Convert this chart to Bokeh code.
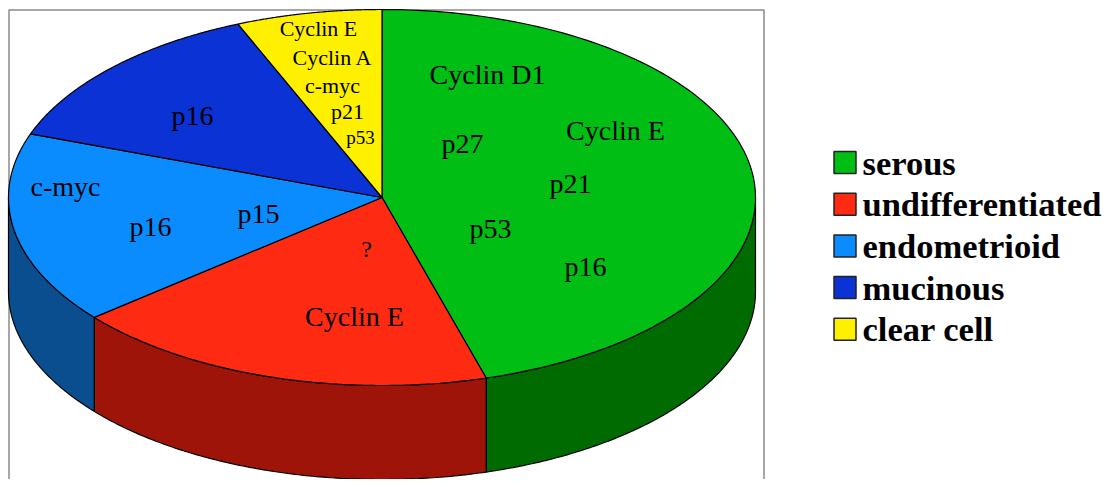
import numpy as np
from bokeh.plotting import figure
from bokeh.models import Range1d
from bokeh.core.properties import value
from bokeh.embed import file_html
from bokeh.resources import INLINE

# ---- data -------------------------------------------------------------
categories = ["serous", "undifferentiated", "endometrioid", "mucinous", "clear cell"]
shares = [45.5, 18.5, 16.5, 13.2, 6.3]
top_colors = ["#00BE14", "#FF2A12", "#0A8CFF", "#0A32D4", "#FFF000"]
side_colors = ["#006B00", "#9E1408", "#0A4E8F", "#06208A", "#A09600"]

# marker texts written on the slices (text, x, y, font size px)
slice_texts = [
    ("Cyclin D1", 487, 74, 28), ("Cyclin E", 615, 130, 28), ("p27", 462, 143, 28),
    ("p21", 570, 183, 28), ("p53", 490, 228, 28), ("p16", 585, 266, 28),
    ("?", 366, 248, 24), ("Cyclin E", 354, 316, 28),
    ("c-myc", 65, 186, 28), ("p16", 150, 226, 28), ("p15", 258, 213, 28),
    ("p16", 192, 115, 28),
    ("Cyclin E", 318, 28, 22), ("Cyclin A", 332, 57, 22), ("c-myc", 332, 85, 22),
    ("p21", 347, 111, 22), ("p53", 360, 137, 19),
]

# ---- layout -----------------------------------------------------------
W, H = 1102, 479
CX, CY, A, B, D = 381.5, 197.0, 373.5, 188.0, 94.0

p = figure(width=W, height=H, x_range=Range1d(0, W), y_range=Range1d(H, 0),
           output_backend="svg", toolbar_location=None, min_border=0,
           x_axis_location=None, y_axis_location=None)
p.grid.visible = False
p.outline_line_color = None
p.background_fill_color = "white"

# frame around the pie area
p.line(x=[8.5, 8.5, 763.5, 763.5], y=[600, 9.5, 9.5, 600], line_color="#8a8a8a", line_width=1.5)


def arc(t0, t1, n=120):
    t = np.radians(np.linspace(t0, t1, n))
    return CX + A * np.cos(t), CY - B * np.sin(t)


total = float(sum(shares))
cum = np.concatenate([[0.0], np.cumsum(shares)])
starts = 90.0 - 360.0 * cum[:-1] / total
ends = 90.0 - 360.0 * cum[1:] / total

side_xs, side_ys, side_fill = [], [], []
top_xs, top_ys = [], []
for s, e, sc in zip(starts, ends, side_colors):
    lo, hi = max(e, -180.0), min(s, 0.0)
    if hi > lo:
        ax, ay = arc(hi, lo)
        side_xs.append(list(ax) + list(ax[::-1]))
        side_ys.append(list(ay) + list((ay + D)[::-1]))
        side_fill.append(sc)
    ax, ay = arc(s, e)
    top_xs.append([CX] + list(ax))
    top_ys.append([CY] + list(ay))

p.patches(side_xs, side_ys, fill_color=side_fill, line_color="black", line_width=1.2)
p.patches(top_xs, top_ys, fill_color=top_colors, line_color="black", line_width=1.2)

# slice texts
for txt, x, y, sz in slice_texts:
    p.text(x=[x], y=[y], text=[txt], text_font=value("Liberation Serif"),
           text_font_size=f"{sz}px", text_align="center", text_baseline="middle",
           text_color="black")

# legend
ly = [162 + 41.7 * i for i in range(len(categories))]
p.rect(x=[844.5] * len(categories), y=ly, width=22, height=22,
       fill_color=top_colors, line_color="#222222", line_width=1.5)
p.text(x=[862] * len(categories), y=ly, text=categories, text_font=value("Liberation Serif"),
       text_font_style="bold", text_font_size="34.5px", text_align="left",
       text_baseline="middle", text_color="black")

open("out.html", "w").write(file_html(p, INLINE))
